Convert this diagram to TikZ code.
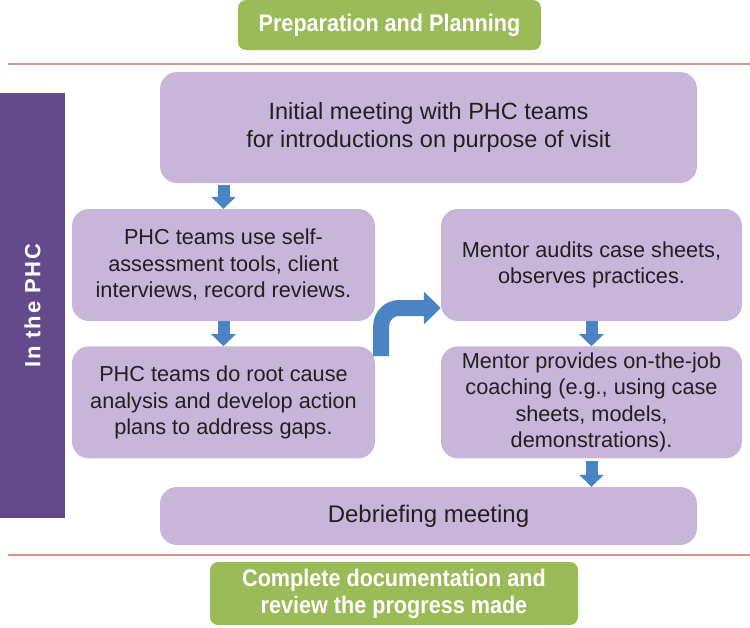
\documentclass[tikz,border=0pt]{standalone}
\usepackage{fontspec}
\setmainfont{Liberation Sans}
\newfontfamily\titlefont[FakeStretch=0.9]{Liberation Sans}
\newfontfamily\sidefont[LetterSpace=8]{Liberation Sans}
\usepackage{xcolor}
\usetikzlibrary{arrows.meta,positioning,calc}

\definecolor{phcgreen}{HTML}{9BBB59}
\definecolor{phclilac}{HTML}{C9B5D9}
\definecolor{phcviolet}{HTML}{644A8A}
\definecolor{phcblue}{HTML}{4A84C4}
\definecolor{phcred}{HTML}{D9928F}
\definecolor{phctext}{HTML}{231F20}

\begin{document}
\begin{tikzpicture}[x=1pt, y=-1pt, node distance=25pt,
    stepbox/.style={rectangle, fill=phclilac, rounded corners=17pt, align=center, text=phctext,
        font=\fontsize{21.7}{26.5}\selectfont, inner sep=0pt},
    headbox/.style={rectangle, fill=phcgreen, rounded corners=8pt, align=center, text=white,
        font=\titlefont\fontsize{24}{27}\selectfont\bfseries, inner sep=0pt},
    downarrow/.style={draw=phcblue, line width=12pt, -{Triangle[length=12pt, width=24pt]}},
    bentarrow/.style={draw=phcblue, line width=16pt, rounded corners=18pt, -{Triangle[length=17pt, width=32pt]}},
    sepline/.style={draw=phcred, line width=1.2pt}]

    \useasboundingbox (0,0) rectangle (750,627);

    % headers and separators
    \node[headbox, minimum width=303pt, minimum height=50pt] (prep) at (389.5,25) {Preparation and Planning};
    \node[headbox, minimum width=368pt, minimum height=63pt] (done) at (394,593.5)
        {Complete documentation and\\review the progress made};
    \draw[sepline] (8,64) -- (750,64);
    \draw[sepline] (8,555) -- (750,555);

    % side bar
    \node[rectangle, fill=phcviolet, rotate=90, minimum width=425pt, minimum height=65pt, inner sep=0pt,
        text=white, font=\sidefont\fontsize{22}{24}\selectfont\bfseries] (phc) at (32.5,305.5) {In the PHC};

    % steps
    \node[stepbox, minimum width=537pt, minimum height=111pt, font=\fontsize{23.5}{28}\selectfont] (b1)
        at (428.5,127.5) {Initial meeting with PHC teams\\for introductions on purpose of visit};
    \node[stepbox, minimum width=303pt, minimum height=112pt] (b2) at (223.5,265)
        {PHC teams use self-\\assessment tools, client\\interviews, record reviews.};
    \node[stepbox, minimum width=303pt, minimum height=112pt, below=of b2] (b3)
        {PHC teams do root cause\\analysis and develop action\\plans to address gaps.};
    \node[stepbox, minimum width=301pt, minimum height=112pt] (b4) at (591.5,265)
        {Mentor audits case sheets,\\observes practices.};
    \node[stepbox, minimum width=301pt, minimum height=112pt, below=of b4] (b5)
        {Mentor provides on-the-job\\coaching (e.g., using case\\sheets, models,\\demonstrations).};
    \node[stepbox, minimum width=537pt, minimum height=58pt, font=\fontsize{24}{28}\selectfont] (b6)
        at (428.5,516) {Debriefing meeting};

    % arrows
    \draw[downarrow] ([yshift=-2pt]b2.north |- b1.south) -- (b2.north);
    \draw[downarrow] (b2.south) -- (b3.north);
    \draw[downarrow] (b4.south) -- (b5.north);
    \draw[downarrow] ([yshift=-2pt]b5.south) -- (b5.south |- b6.north);
    \draw[bentarrow] ([shift={(6pt,-10pt)}]b3.north east) |- ([yshift=-43pt]b4.west);

\end{tikzpicture}
\end{document}
